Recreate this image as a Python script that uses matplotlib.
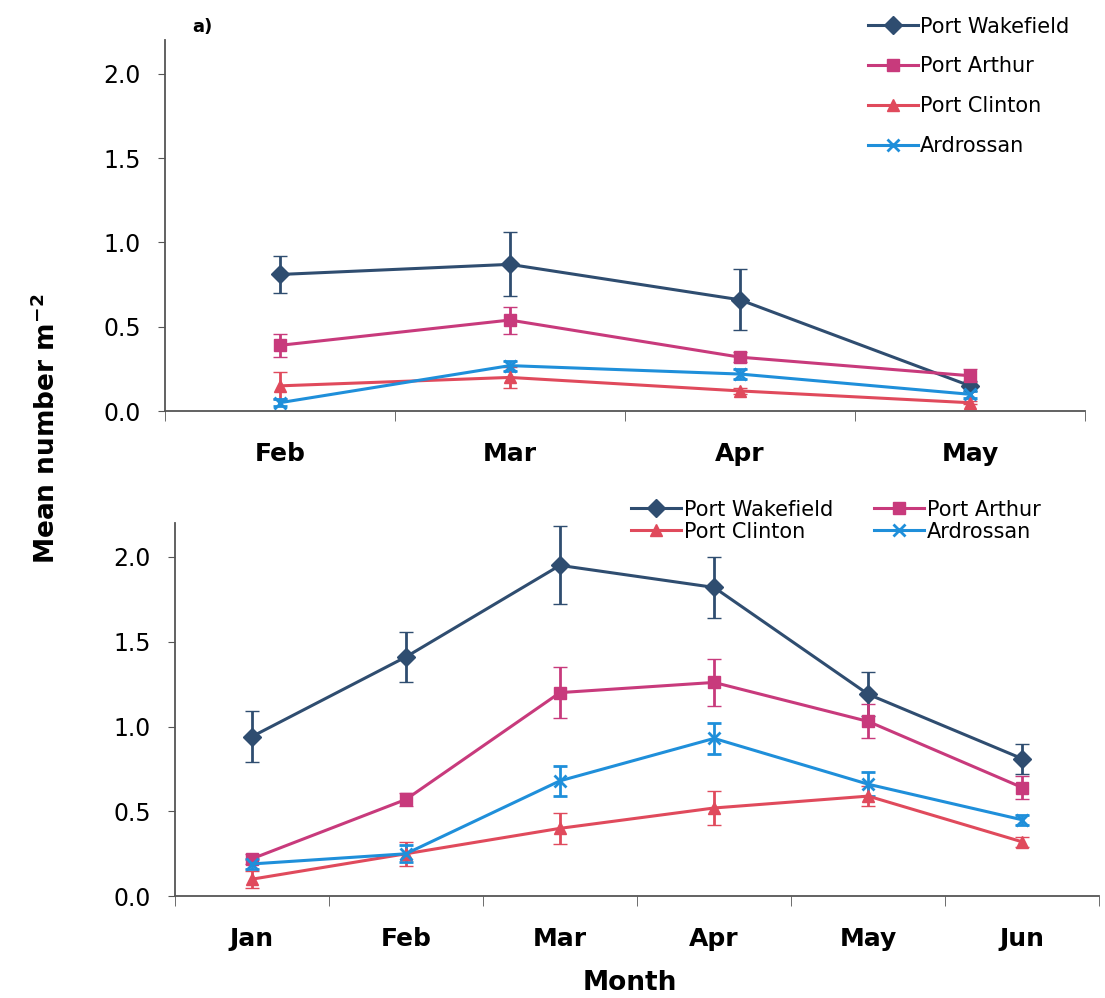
import matplotlib
matplotlib.use('Agg')
import matplotlib.pyplot as plt
from matplotlib.lines import Line2D
import numpy as np

plt.rcParams['font.family'] = ['DejaVu Sans']

SITES = ['Port Wakefield', 'Port Arthur', 'Port Clinton', 'Ardrossan']
COLORS = ['#2f4d70', '#c83a7c', '#e04a5c', '#1f8fda']
MARKERS = ['D', 's', '^', 'x']

# panel a) Feb - May
MONTHS_A = ['Feb', 'Mar', 'Apr', 'May']
wakefield_a = [0.81, 0.87, 0.66, 0.15]
wakefield_a_err = [0.11, 0.19, 0.18, 0.03]
arthur_a = [0.39, 0.54, 0.32, 0.21]
arthur_a_err = [0.07, 0.08, 0.03, 0.04]
clinton_a = [0.15, 0.20, 0.12, 0.05]
clinton_a_err = [0.08, 0.06, 0.02, 0.01]
ardrossan_a = [0.05, 0.27, 0.22, 0.10]
ardrossan_a_err = [0.02, 0.03, 0.03, 0.02]

# panel b) Jan - Jun
MONTHS_B = ['Jan', 'Feb', 'Mar', 'Apr', 'May', 'Jun']
wakefield_b = [0.94, 1.41, 1.95, 1.82, 1.19, 0.81]
wakefield_b_err = [0.15, 0.15, 0.23, 0.18, 0.13, 0.09]
arthur_b = [0.22, 0.57, 1.20, 1.26, 1.03, 0.64]
arthur_b_err = [0.03, 0.04, 0.15, 0.14, 0.10, 0.07]
clinton_b = [0.10, 0.25, 0.40, 0.52, 0.59, 0.32]
clinton_b_err = [0.05, 0.07, 0.09, 0.10, 0.06, 0.03]
ardrossan_b = [0.19, 0.25, 0.68, 0.93, 0.66, 0.45]
ardrossan_b_err = [0.03, 0.05, 0.09, 0.09, 0.07, 0.03]


def handles():
    out = []
    for col, mk in zip(COLORS, MARKERS):
        out.append(Line2D([], [], color=col, marker=mk, markersize=9,
                          markeredgewidth=2 if mk == 'x' else 1, linewidth=2.2))
    return out


def draw_panel(ax, months, series, errs):
    x = np.arange(len(months))
    for name, vals, err, col, mk in zip(SITES, series, errs, COLORS, MARKERS):
        ax.errorbar(x, vals, yerr=err, color=col, marker=mk, markersize=9,
                    markeredgewidth=2 if mk == 'x' else 1, linewidth=2.2,
                    elinewidth=2, capsize=5, capthick=2, label=name)
    ax.set_xlim(-0.5, len(months) - 0.5)
    ax.set_ylim(0, 2.2)
    ax.set_yticks([0.0, 0.5, 1.0, 1.5, 2.0])
    ax.set_yticklabels(['0.0', '0.5', '1.0', '1.5', '2.0'], fontsize=17)
    ax.set_xticks(x)
    ax.set_xticklabels(months, fontsize=18, fontweight='bold')
    ax.set_xticks(np.arange(len(months) + 1) - 0.5, minor=True)
    ax.tick_params(axis='x', which='major', length=0, pad=22)
    ax.tick_params(axis='x', which='minor', length=7, color='#555555')
    ax.tick_params(axis='y', length=5, color='#555555', pad=12)
    for s in ['top', 'right']:
        ax.spines[s].set_visible(False)
    for s in ['left', 'bottom']:
        ax.spines[s].set_color('#555555')
        ax.spines[s].set_linewidth(1.3)


fig = plt.figure(figsize=(11.05, 9.98), dpi=100)

ax1 = fig.add_axes([0.149, 0.588, 0.833, 0.372])
draw_panel(ax1, MONTHS_A,
           [wakefield_a, arthur_a, clinton_a, ardrossan_a],
           [wakefield_a_err, arthur_a_err, clinton_a_err, ardrossan_a_err])
ax1.legend(handles(), SITES, loc='upper left', bbox_to_anchor=(0.755, 1.085),
           frameon=False, fontsize=15, labelspacing=0.95, handlelength=2.4,
           handletextpad=0.1, borderaxespad=0)
ax1.text(0.03, 1.02, 'a)', transform=ax1.transAxes, fontsize=13, fontweight='bold')

ax2 = fig.add_axes([0.158, 0.102, 0.837, 0.374])
draw_panel(ax2, MONTHS_B,
           [wakefield_b, arthur_b, clinton_b, ardrossan_b],
           [wakefield_b_err, arthur_b_err, clinton_b_err, ardrossan_b_err])
h = handles()
ax2.legend([h[0], h[2], h[1], h[3]], [SITES[0], SITES[2], SITES[1], SITES[3]],
           ncol=2, loc='upper left', bbox_to_anchor=(0.485, 1.085), frameon=False,
           fontsize=15, labelspacing=0.1, handlelength=2.4, handletextpad=0.1,
           columnspacing=2.0, borderaxespad=0)

fig.text(0.042, 0.57, 'Mean number m$^{\\mathbf{-2}}$', rotation=90, fontsize=19,
         fontweight='bold', ha='center', va='center')
fig.text(0.57, 0.008, 'Month', fontsize=19, fontweight='bold', ha='center')

fig.savefig('out.png', dpi=100)
